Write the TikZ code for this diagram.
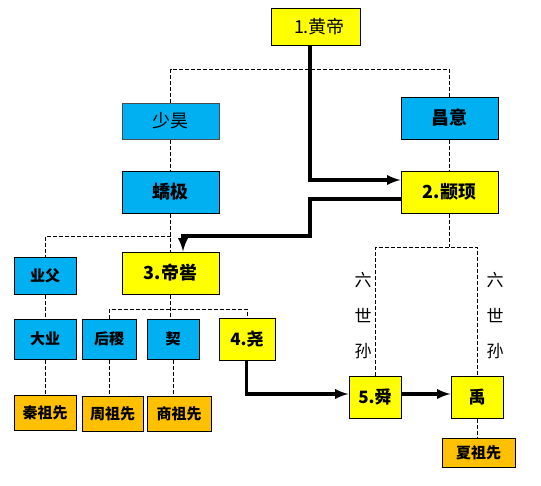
\documentclass[tikz,border=0pt]{standalone}
\usepackage{fontspec}
\setmainfont{Noto Sans CJK SC}
\usetikzlibrary{arrows}
\definecolor{kingyellow}{RGB}{255,255,0}
\definecolor{clanblue}{RGB}{0,176,240}
\definecolor{ancorange}{RGB}{255,192,0}

\begin{document}
\begin{tikzpicture}[x=1pt,y=-1pt,
  box/.style={draw,line width=1pt,inner sep=0pt,anchor=center},
  king/.style={box,fill=kingyellow},
  clan/.style={box,fill=clanblue},
  anc/.style={box,fill=ancorange,font=\bfseries\fontsize{15}{17}\selectfont},
  big/.style={font=\bfseries\fontsize{18}{20}\selectfont},
  mid/.style={font=\bfseries\fontsize{17}{19}\selectfont},
  small/.style={font=\bfseries\fontsize{15}{17}\selectfont},
  kin/.style={line width=0.8pt,dash pattern=on 4pt off 2pt},
  reign/.style={line width=3.5pt,-latex}]
\useasboundingbox (0,0) rectangle (541,485);

% top generations
\node[king,minimum width=89pt,minimum height=37pt,font=\fontsize{18}{20}\selectfont] (huangdi) at (315.5,26.5) {\hspace{8pt}1.黄帝};
\node[clan,draw=black!70,minimum width=97pt,minimum height=36pt,font=\fontsize{18}{20}\selectfont] (shaohao) at (170.5,121) {少昊};
\node[clan,big,minimum width=97pt,minimum height=42pt] (jiaoji) at (170.5,192) {蟜极};
\node[clan,big,minimum width=97pt,minimum height=42pt] (changyi) at (449.5,118) {昌意};
\node[king,big,minimum width=97pt,minimum height=42pt] (zhuanxu) at (449.5,192) {2.颛顼};

% middle generations
\node[clan,small,minimum width=62pt,minimum height=37pt] (yefu) at (45,275.5) {业父};
\node[king,big,minimum width=97pt,minimum height=42pt] (diku) at (170.5,273) {3.帝喾};
\node[clan,small,minimum width=62pt,minimum height=40pt] (daye) at (45,339) {大业};
\node[clan,small,minimum width=54pt,minimum height=40pt] (houji) at (109,339) {后稷};
\node[clan,small,minimum width=52pt,minimum height=40pt] (qi) at (173,339) {契};
\node[king,mid,minimum width=56pt,minimum height=42pt] (yao) at (247,339) {4.尧};
\node[king,mid,minimum width=52pt,minimum height=42pt] (shun) at (375,397) {5.舜};
\node[king,mid,minimum width=52pt,minimum height=42pt] (yu) at (477,397) {禹};

% ancestors
\node[anc,minimum width=62pt,minimum height=35pt] (qin) at (45,412.5) {秦祖先};
\node[anc,minimum width=61pt,minimum height=35pt] (zhou) at (112.5,413.5) {周祖先};
\node[anc,minimum width=64pt,minimum height=35pt] (shang) at (179,413.5) {商祖先};
\node[anc,minimum width=73pt,minimum height=29pt] (xia) at (478.5,452.5) {夏祖先};

\node[font=\fontsize{17}{35.5}\selectfont,align=center] (sixl) at (363,316) {六\\世\\孙};
\node[font=\fontsize{17}{35.5}\selectfont,align=center] (sixr) at (495,316) {六\\世\\孙};

\coordinate (hd) at (315.5,69);
\coordinate (jk) at (170.5,236);
\coordinate (zx) at (449.5,247);
\coordinate (dk) at (170.5,309);

% kinship lines
\draw[kin] (shaohao.north) |- (hd) -| (changyi.north);
\draw[kin] (shaohao.south) -- (jiaoji.north);
\draw[kin] (jiaoji.south) -- (diku.north);
\draw[kin] (jk) -| (yefu.north);
\draw[kin] (changyi.south) -- (zhuanxu.north);
\draw[kin] (zhuanxu.south) -- (zx);
\draw[kin] (shun.north) |- (zx) -| (yu.north);
\draw[kin] (diku.south) -- (diku.south |- qi.north);
\draw[kin] (houji.north) |- (dk) -| (yao.north);
\draw[kin] (yefu.south) -- (daye.north);
\draw[kin] (daye.south) -- (qin.north);
\draw[kin] (houji.south) -- (houji.south |- zhou.north);
\draw[kin] (qi.south) -- (qi.south |- shang.north);
\draw[kin] (yu.south) -- (yu.south |- xia.north);

% succession
\draw[reign] ([xshift=-5.5pt]huangdi.south) |- ([yshift=12pt]zhuanxu.west);
\draw[reign] ([yshift=-7pt]zhuanxu.west) -| (310,236) -| ([xshift=12.5pt]diku.north);
\draw[reign] ([xshift=-0.5pt]yao.south) |- ([yshift=3pt]shun.west);
\draw[reign] ([yshift=3pt]shun.east) -- ([yshift=3pt]yu.west);

\end{tikzpicture}
\end{document}
